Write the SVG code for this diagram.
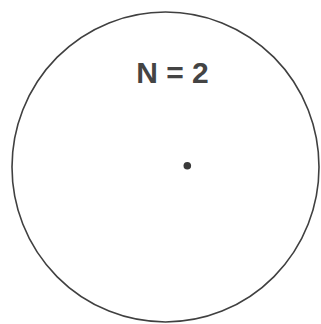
<svg xmlns="http://www.w3.org/2000/svg" width="321" height="324" viewBox="0 0 321 324">
<style>
.outline{fill:none;stroke:#404040;stroke-width:1.6}
.label{font-family:"Liberation Sans",Arial,sans-serif;font-weight:bold;font-size:30px;fill:#444}
</style>
<rect width="321" height="324" fill="#fff"/>
<g id="circle">
<ellipse class="outline" cx="165.5" cy="167" rx="153.5" ry="155"/>
</g>
<g id="label">
<text class="label" x="172.5" y="83" text-anchor="middle">N = 2</text>
</g>
<g id="dot">
<circle cx="187.3" cy="165.7" r="3.8" fill="#3a3a3a"/>
</g>
</svg>
